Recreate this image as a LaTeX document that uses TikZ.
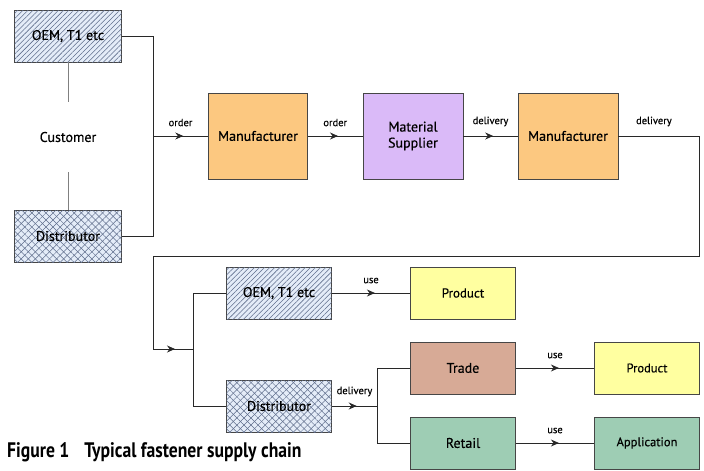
\documentclass[tikz,border=0pt]{standalone}
\usepackage{fontspec}
\setmainfont{PT Sans}[FakeBold=0.4]
\newfontfamily\figcapfont[FakeStretch=0.84]{PT Sans}
\usetikzlibrary{arrows.meta,positioning,patterns.meta,decorations.markings}
\definecolor{mfgorange}{RGB}{252,200,128}
\definecolor{supplilac}{RGB}{218,186,248}
\definecolor{prodyellow}{RGB}{255,255,160}
\definecolor{tradebrown}{RGB}{215,170,150}
\definecolor{retailgreen}{RGB}{158,205,180}
\definecolor{hatchbg}{RGB}{228,236,248}
\definecolor{hatchline}{RGB}{95,110,140}
\definecolor{boxedge}{RGB}{70,70,70}
\definecolor{linegray}{RGB}{40,40,40}

\begin{document}
\begin{tikzpicture}[x=1pt, y=-1pt,
  box/.style={draw=boxedge, line width=0.9pt, align=center, inner sep=0pt,
    font=\fontsize{14}{16}\selectfont},
  bigbox/.style={box, minimum width=99pt, minimum height=86pt},
  smallbox/.style={box, minimum width=105pt, minimum height=52pt},
  custbox/.style={box, minimum width=107pt, minimum height=52pt},
  hatched/.style={fill=hatchbg, postaction={pattern={Lines[angle=45, distance=3.6pt, line width=0.55pt]},
    pattern color=hatchline}},
  crossed/.style={fill=hatchbg,
    postaction={pattern={Lines[angle=45, distance=5pt, line width=0.5pt]}, pattern color=hatchline},
    postaction={pattern={Lines[angle=-45, distance=5pt, line width=0.5pt]}, pattern color=hatchline}},
  link/.style={draw=linegray, line width=0.8pt},
  midarrow/.style={link, postaction={decorate}, decoration={markings,
    mark=at position 0.55 with {\arrow{Stealth[length=8pt, width=7pt]}}}},
  lbl/.style={font=\fontsize{10.5}{12}\selectfont}]
  \useasboundingbox (0,0) rectangle (704,471);

  % customer side
  \node[custbox, hatched] (oemA) at (68,36) {OEM, T1 etc};
  \node[custbox, crossed] (distA) at (68,236) {Distributor};
  \node[minimum height=70pt, inner sep=0pt, font=\fontsize{14}{16}\selectfont] (cust) at (68,137) {Customer};
  \draw[link, draw=gray] (oemA) -- (cust);
  \draw[link, draw=gray] (cust) -- (distA);

  % upper chain
  \node[bigbox, fill=mfgorange] (manA) at (258,136) {Manufacturer};
  \node[bigbox, fill=supplilac, minimum width=100pt] (supp) at (413,136) {Material\\Supplier};
  \node[bigbox, fill=mfgorange, minimum width=100pt] (manB) at (568,136) {Manufacturer};

  \coordinate (jA) at (153,136);
  \draw[link] (oemA.east) -| (jA);
  \draw[link] (distA.east) -| (jA);
  \draw[midarrow] (jA) -- (manA) node[lbl, midway, above=6pt] {order};
  \draw[midarrow] (manA) -- (supp) node[lbl, midway, above=6pt] {order};
  \draw[midarrow] (supp) -- (manB) node[lbl, midway, above=6pt] {delivery};

  % return path to the lower chain
  \coordinate (loopR) at (699,256);
  \coordinate (loopL) at (153,256);
  \coordinate (jB) at (153,349);
  \coordinate (jC) at (193,349);
  \draw[link] (manB.east) -| (loopR) node[lbl, pos=0.22, above=6pt] {delivery} -- (loopL) -- (jB);
  \draw[midarrow] (jB) -- (jC);

  % lower chain
  \node[smallbox, hatched] (oemB) at (279,293) {OEM, T1 etc};
  \node[smallbox, crossed] (distB) at (279,406) {Distributor};
  \node[smallbox, fill=prodyellow, font=\fontsize{13}{15}\selectfont] (prodA) at (463,293) {Product};
  \node[smallbox, fill=tradebrown] (trade) at (463,368) {Trade};
  \node[smallbox, fill=retailgreen] (retail) at (463,443) {Retail};
  \node[smallbox, fill=prodyellow, font=\fontsize{12.5}{14}\selectfont] (prodB) at (647,368) {Product};
  \node[smallbox, fill=retailgreen, font=\fontsize{12.5}{14}\selectfont] (appl) at (647,443) {Application};

  \draw[link] (oemB.west) -| (jC);
  \draw[link] (distB.west) -| (jC);
  \draw[midarrow] (oemB) -- (prodA) node[lbl, midway, above=6pt] {use};

  \coordinate (jD) at (377,406);
  \draw[midarrow] (distB) -- (jD) node[lbl, midway, above=6pt] {delivery};
  \draw[link] (jD) |- (trade.west);
  \draw[link] (jD) |- (retail.west);
  \draw[midarrow] (trade) -- (prodB) node[lbl, midway, above=6pt] {use};
  \draw[midarrow] (retail) -- (appl) node[lbl, midway, above=6pt] {use};

  \node[anchor=west, inner sep=0pt, font=\figcapfont\bfseries\fontsize{21}{24}\selectfont] (cap) at (7,452)
    {Figure 1\hspace{15pt}Typical fastener supply chain};
\end{tikzpicture}
\end{document}
